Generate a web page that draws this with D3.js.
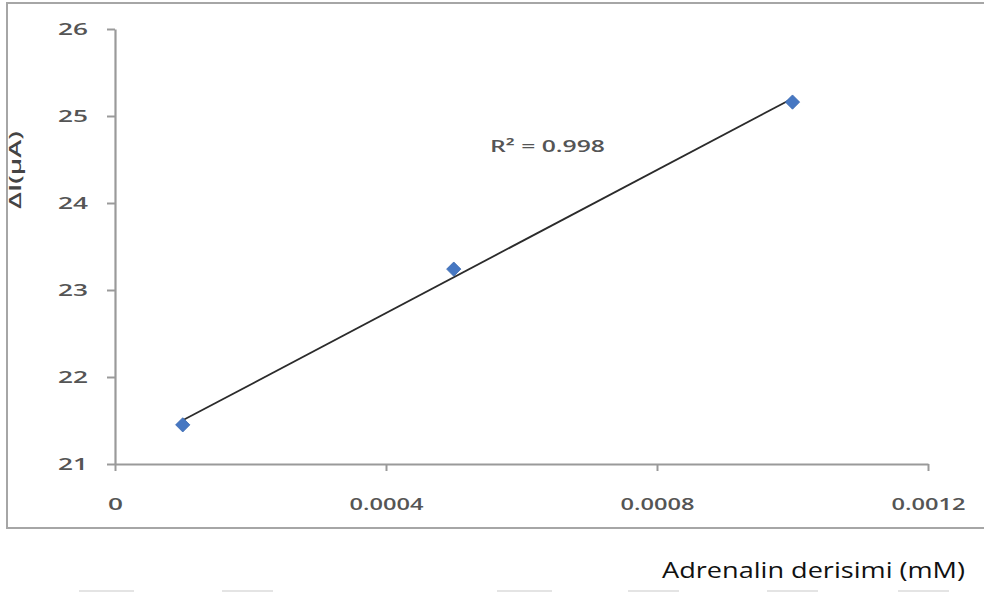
<!DOCTYPE html>
<html>
<head>
<meta charset="utf-8">
<script src="https://cdn.jsdelivr.net/npm/d3@7"></script>
<style>
  html, body { margin: 0; padding: 0; background: #fff; }
  svg { display: block; }
</style>
</head>
<body>
<svg id="chart" width="984" height="593"></svg>
<script>
// Adrenaline concentration (mM) vs. current response (µA)
const concentrations = [0.0001, 0.0005, 0.001];
const currents = [21.45, 23.24, 25.16];
const xTicks = [0, 0.0004, 0.0008, 0.0012];
const yTicks = [21, 22, 23, 24, 25, 26];
const rSquaredLabel = "R\u00B2 = 0.998";
const xTitle = "Adrenalin derisimi (mM)";
const yTitle = "\u0394I(\u03BCA)";

const svg = d3.select("#chart");

// Outer chart frame (right edge runs off the page)
svg.append("rect")
  .attr("x", 7).attr("y", 3)
  .attr("width", 990).attr("height", 525)
  .attr("fill", "none")
  .attr("stroke", "#a6a6a6")
  .attr("stroke-width", 2);

const x = d3.scaleLinear().domain([0, 0.0012]).range([115, 928]);
const y = d3.scaleLinear().domain([21, 26]).range([464, 29]);

const tickFont = "'Open Sans', 'DejaVu Sans', sans-serif";

// Y axis
const yAxis = svg.append("g")
  .attr("transform", `translate(${x(0)},0)`)
  .call(d3.axisLeft(y).tickValues(yTicks).tickSize(8).tickSizeOuter(0).tickPadding(19)
    .tickFormat(d3.format("d")));

// X axis
const xAxis = svg.append("g")
  .attr("transform", `translate(0,${y(21)})`)
  .call(d3.axisBottom(x).tickValues(xTicks).tickSize(7).tickSizeOuter(0).tickPadding(27)
    .tickFormat(d => d === 0 ? "0" : d.toFixed(4)));

[xAxis, yAxis].forEach(g => {
  g.select(".domain").attr("stroke", "#9a9a9a").attr("stroke-width", 2.2);
  g.selectAll(".tick line").attr("stroke", "#9a9a9a").attr("stroke-width", 2);
  g.selectAll(".tick text")
    .attr("fill", "#555")
    .attr("font-family", tickFont)
    .attr("font-size", 17)
    .attr("font-weight", 600)
    .attr("lengthAdjust", "spacingAndGlyphs");
});
// Wide, stretched tick lettering
yAxis.selectAll(".tick text").attr("textLength", 30);
xAxis.selectAll(".tick text").attr("textLength", d => d === 0 ? 15 : 74);

// Least-squares trendline over the measured range
const mx = d3.mean(concentrations), my = d3.mean(currents);
const sxy = d3.sum(concentrations, (c, i) => (c - mx) * (currents[i] - my));
const sxx = d3.sum(concentrations, c => (c - mx) * (c - mx));
const slope = sxy / sxx;
const intercept = my - slope * mx;
const xExt = d3.extent(concentrations);
const fit = xExt.map(c => [c, intercept + slope * c]);

svg.append("path")
  .datum(fit)
  .attr("d", d3.line().x(d => x(d[0])).y(d => y(d[1])))
  .attr("stroke", "#2b2b2b")
  .attr("stroke-width", 1.8)
  .attr("fill", "none");

// Data markers (diamonds)
svg.append("g")
  .selectAll("path")
  .data(concentrations.map((c, i) => [c, currents[i]]))
  .join("path")
  .attr("transform", d => `translate(${x(d[0])},${y(d[1])})`)
  .attr("d", d3.symbol(d3.symbolDiamond2, 130))
  .attr("fill", "#4677c2")
  .attr("stroke", "#3a68b0")
  .attr("stroke-width", 0.8);

// R² annotation
svg.append("text")
  .attr("x", 490).attr("y", 152)
  .attr("fill", "#555")
  .attr("font-family", tickFont)
  .attr("font-size", 17)
  .attr("font-weight", 600)
  .attr("textLength", 115)
  .attr("lengthAdjust", "spacingAndGlyphs")
  .text(rSquaredLabel);

// Y axis title, partly cut by the frame
svg.append("text")
  .attr("transform", "translate(21,170) rotate(-90)")
  .attr("text-anchor", "middle")
  .attr("fill", "#444")
  .attr("font-family", tickFont)
  .attr("font-size", 17)
  .attr("font-weight", 600)
  .attr("textLength", 78)
  .attr("lengthAdjust", "spacingAndGlyphs")
  .text(yTitle);

// X axis title below the frame
svg.append("text")
  .attr("x", 662).attr("y", 578)
  .attr("fill", "#111")
  .attr("font-family", "'Open Sans', sans-serif")
  .attr("font-size", 21)
  .attr("textLength", 303)
  .attr("lengthAdjust", "spacingAndGlyphs")
  .text(xTitle);

// Faint rule fragments along the bottom edge
const fragments = [[79, 134], [222, 273], [497, 552], [628, 679], [767, 818], [898, 949]];
svg.append("g")
  .selectAll("line")
  .data(fragments)
  .join("line")
  .attr("x1", d => d[0]).attr("x2", d => d[1])
  .attr("y1", 591).attr("y2", 591)
  .attr("stroke", "#e4e4e4")
  .attr("stroke-width", 2);
</script>
</body>
</html>
